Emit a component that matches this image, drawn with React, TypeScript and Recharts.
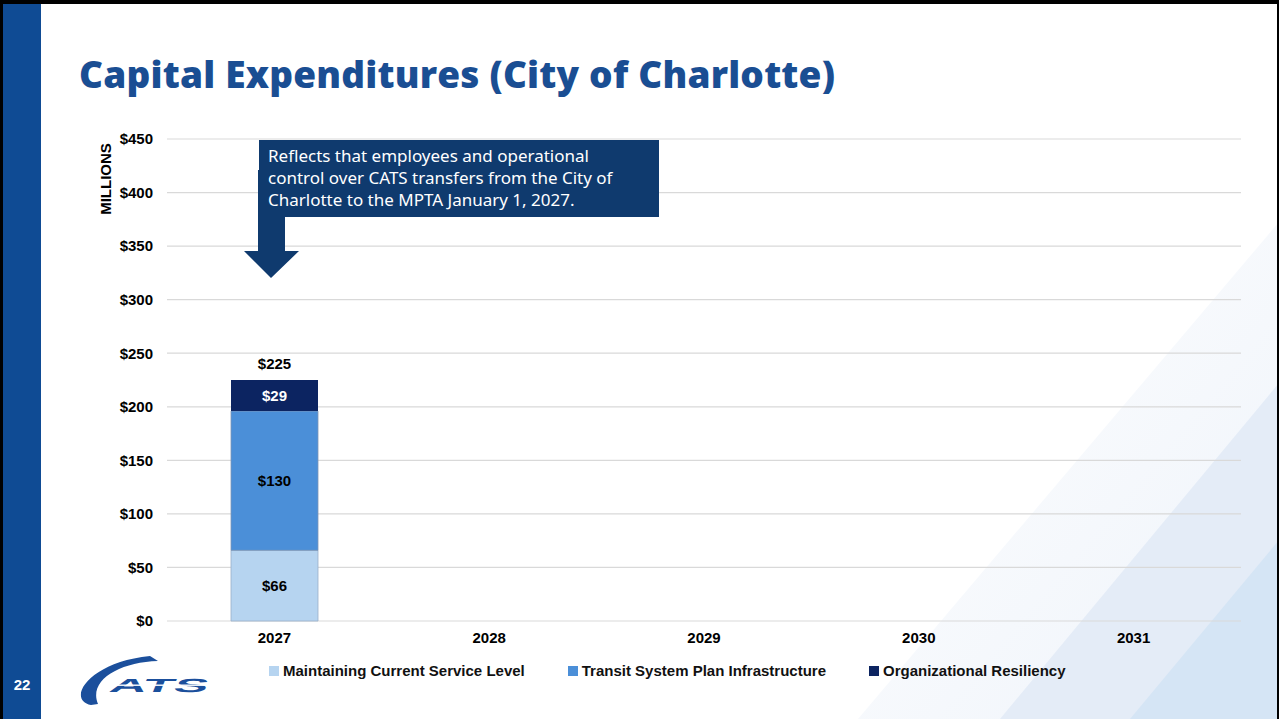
import React from "react";
import { BarChart, Bar, XAxis, YAxis, CartesianGrid, Legend, LabelList } from "recharts";

const years = ["2027", "2028", "2029", "2030", "2031"];
const maintaining = [66, null, null, null, null];
const transit = [130, null, null, null, null];
const resiliency = [29, null, null, null, null];
const totals = [225, null, null, null, null];
const yTicks = [0, 50, 100, 150, 200, 250, 300, 350, 400, 450];

const seriesNames = ["Maintaining Current Service Level", "Transit System Plan Infrastructure", "Organizational Resiliency"];
const seriesColors = ["#B6D4F0", "#4B8FD8", "#0C2461"];

const calloutLines = [
  "Reflects that employees and operational",
  "control over CATS transfers from the City of",
  "Charlotte to the MPTA January 1, 2027.",
];

const chartData = years.map((y, i) => ({
  year: y,
  maintaining: maintaining[i],
  transit: transit[i],
  resiliency: resiliency[i],
  total: totals[i],
}));

const money = (v: any) => (v === null || v === undefined ? "" : `$${v}`);

const axisFont = "'Liberation Sans', Arial, sans-serif";

const LegendContent = () => (
  <div style={{ display: "flex", paddingLeft: 269, gap: 43, fontFamily: axisFont, fontWeight: 700, fontSize: 15, color: "#111" }}>
    {seriesNames.map((n, i) => (
      <div key={n} style={{ display: "flex", alignItems: "center" }}>
        <span style={{ display: "inline-block", width: 10, height: 10, background: seriesColors[i], marginRight: 4 }} />
        <span>{n}</span>
      </div>
    ))}
  </div>
);

const CatsLogo = () => (
  <svg width={140} height={56} viewBox="80 652 140 56" style={{ position: "absolute", left: 80, top: 652 }}>
    <path d="M91 705 C 66 700, 88 662, 150 656 L 158 661 C 120 662, 88 680, 98 704 Z" fill="#1B4F9C" />
    <g transform="translate(108 692) skewX(-22)">
      <text x={0} y={0} fontFamily={axisFont} fontWeight={900} fontSize={19} fill="#1B4F9C" textLength={98} lengthAdjust="spacingAndGlyphs">ATS</text>
    </g>
    <rect x={100} y={684.5} width={112} height={1.4} fill="#fff" />
  </svg>
);

export default function App() {
  return (
    <div style={{ position: "absolute", left: 0, top: 0, width: 1279, height: 719, background: "#fff", overflow: "hidden" }}>
      {/* background diagonals */}
      <svg width={1279} height={719} style={{ position: "absolute", left: 0, top: 0 }}>
        <defs>
          <linearGradient id="g1" x1="0" y1="0" x2="1" y2="1">
            <stop offset="0" stopColor="#ffffff" />
            <stop offset="1" stopColor="#EEF3FA" />
          </linearGradient>
        </defs>
        <polygon points="1279,222 1279,719 858,719" fill="url(#g1)" />
        <polygon points="1279,383 1279,719 1000,719" fill="#E4ECF7" />
        <polygon points="1279,540 1279,719 1130,719" fill="#D5E5F5" />
      </svg>
      {/* frame */}
      <div style={{ position: "absolute", left: 0, top: 0, width: 1279, height: 4, background: "#000" }} />
      <div style={{ position: "absolute", left: 0, top: 0, width: 3, height: 719, background: "#000" }} />
      <div style={{ position: "absolute", right: 0, top: 0, width: 2, height: 719, background: "#000" }} />
      <div style={{ position: "absolute", left: 3, top: 4, width: 38, height: 715, background: "#0F4B94" }} />
      <div style={{ position: "absolute", left: 8, top: 676, width: 28, textAlign: "center", color: "#fff", fontFamily: axisFont, fontWeight: 700, fontSize: 15 }}>22</div>

      <div style={{ position: "absolute", left: 79, top: 48, color: "#1A4E93", fontFamily: "'Open Sans', sans-serif", fontWeight: 800, fontSize: 37, letterSpacing: 0.2, whiteSpace: "nowrap" }}>
        Capital Expenditures (City of Charlotte)
      </div>

      <div style={{ position: "absolute", left: 0, top: 0 }}>
        <BarChart width={1279} height={719} data={chartData} margin={{ top: 139, right: 38, bottom: 68, left: 117 }} barSize={87}>
          <CartesianGrid vertical={false} stroke="#D9D9D9" strokeWidth={1.2} />
          <XAxis dataKey="year" axisLine={false} tickLine={false} height={30} tickMargin={5}
            tick={{ fill: "#000", fontFamily: axisFont, fontWeight: 700, fontSize: 15 }} />
          <YAxis domain={[0, 450]} ticks={yTicks} width={50} axisLine={false} tickLine={false} tickSize={8} tickMargin={6}
            tickFormatter={(v) => `$${v}`} tick={{ fill: "#000", fontFamily: axisFont, fontWeight: 700, fontSize: 15 }} />
          <Legend layout="horizontal" verticalAlign="middle" align="center" content={<LegendContent />}
            wrapperStyle={{ top: 662, left: 0, width: 1279 }} />
          <Bar dataKey="maintaining" stackId="a" fill={seriesColors[0]} stroke="#9AAFC8" strokeWidth={0.8} isAnimationActive={false}>
            <LabelList dataKey="maintaining" position="center" formatter={money} fill="#000" fontFamily={axisFont} fontWeight={700} fontSize={15} />
          </Bar>
          <Bar dataKey="transit" stackId="a" fill={seriesColors[1]} stroke="#7D95B5" strokeWidth={0.8} isAnimationActive={false}>
            <LabelList dataKey="transit" position="center" formatter={money} fill="#000" fontFamily={axisFont} fontWeight={700} fontSize={15} />
          </Bar>
          <Bar dataKey="resiliency" stackId="a" fill={seriesColors[2]} isAnimationActive={false}>
            <LabelList dataKey="resiliency" position="center" formatter={money} fill="#fff" fontFamily={axisFont} fontWeight={700} fontSize={15} />
            <LabelList dataKey="total" position="top" offset={11} formatter={money} fill="#000" fontFamily={axisFont} fontWeight={700} fontSize={15} />
          </Bar>
        </BarChart>
      </div>

      <div style={{ position: "absolute", left: 105, top: 179, transform: "translate(-50%, -50%) rotate(-90deg)", fontFamily: axisFont, fontWeight: 700, fontSize: 15, color: "#000", whiteSpace: "nowrap" }}>
        MILLIONS
      </div>

      {/* callout arrow */}
      <svg width={80} height={150} style={{ position: "absolute", left: 240, top: 140 }}>
        <polygon points="18,30 45,30 45,111 59,111 31,138 4,111 18,111" fill="#0F3A6E" />
      </svg>
      <div style={{ position: "absolute", left: 259, top: 140, width: 400, height: 77, background: "#0F3A6E", boxSizing: "border-box", padding: "5px 9px", color: "#fff", fontFamily: "'Noto Sans', sans-serif", fontSize: 17, lineHeight: "22px", whiteSpace: "nowrap" }}>
        {calloutLines.map((l) => (
          <div key={l}>{l}</div>
        ))}
      </div>

      <CatsLogo />
    </div>
  );
}
